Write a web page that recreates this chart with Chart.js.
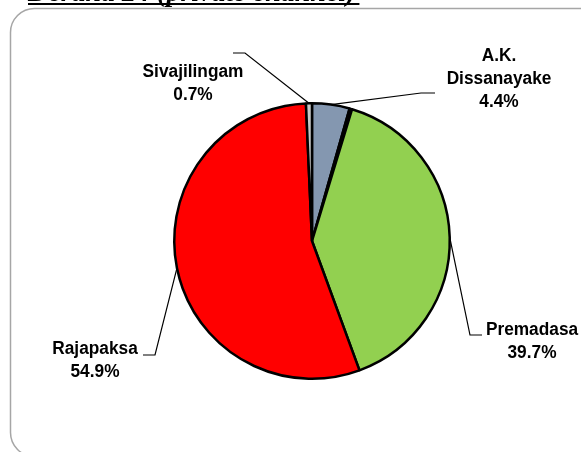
<!DOCTYPE html>
<html>
<head>
<meta charset="utf-8">
<title>Derana 24 (private channel)</title>
<script src="https://cdn.jsdelivr.net/npm/chart.js@4"></script>
<style>
  html, body { margin: 0; padding: 0; background: #fff; overflow: hidden; }
  #chart { display: block; }
</style>
</head>
<body>
<canvas id="chart" width="581" height="452"></canvas>
<script>
// Vote share shown on Derana 24 (private channel)
var candidates = ['A.K. Dissanayake', 'Others', 'Premadasa', 'Rajapaksa', 'Sivajilingam'];
var shares = [4.4, 0.3, 39.7, 54.9, 0.7];
var sliceColors = ['#8497B0', '#000000', '#92D050', '#FF0000', '#C8C8C8'];

// label text lines for each slice (null = no label)
var labelLines = [
    ['A.K.', 'Dissanayake', '4.4%'],
    null,
    ['Premadasa', '39.7%'],
    ['Rajapaksa', '54.9%'],
    ['Sivajilingam', '0.7%']
];

// where the label text sits and where the leader line bends
var labelLayout = [
    { x: 499, y: 56, elbow: [421, 93], end: [435, 93] },
    null,
    { x: 532, y: 330, elbow: [470, 335], end: [482, 335] },
    { x: 95, y: 349, elbow: [155, 355], end: [143, 355] },
    { x: 193, y: 72, elbow: [245, 53], end: [233, 53] }
];

var framePlugin = {
    id: 'frame',
    beforeDraw: function(chart) {
        var ctx = chart.ctx;
        ctx.save();
        // rounded box around the chart
        ctx.strokeStyle = '#A6A6A6';
        ctx.lineWidth = 1.5;
        var x = 10.5, y = 8.5, w = 600, h = 448, r = 24;
        ctx.beginPath();
        ctx.moveTo(x + r, y);
        ctx.lineTo(x + w, y);
        ctx.lineTo(x + w, y + h);
        ctx.lineTo(x + r, y + h);
        ctx.arcTo(x, y + h, x, y + h - r, r);
        ctx.lineTo(x, y + r);
        ctx.arcTo(x, y, x + r, y, r);
        ctx.stroke();

        // clipped title at the very top
        ctx.fillStyle = '#000';
        ctx.font = 'italic bold 28px "Liberation Serif", "Times New Roman", serif';
        ctx.textBaseline = 'alphabetic';
        ctx.textAlign = 'left';
        var title = 'Derana 24 (private channel)';
        ctx.fillText(title, 28, 1);
        var tw = ctx.measureText(title).width;
        ctx.fillRect(28, 3, tw + 4, 2);
        ctx.restore();
    }
};

var labelPlugin = {
    id: 'sliceLabels',
    afterDatasetsDraw: function(chart) {
        var ctx = chart.ctx;
        var arcs = chart.getDatasetMeta(0).data;
        ctx.save();
        arcs.forEach(function(arc, i) {
            if (!labelLines[i]) return;
            var p = arc.getProps(['x', 'y', 'startAngle', 'endAngle', 'outerRadius'], true);
            var mid = (p.startAngle + p.endAngle) / 2;
            var ax = p.x + Math.cos(mid) * p.outerRadius;
            var ay = p.y + Math.sin(mid) * p.outerRadius;
            var lay = labelLayout[i];

            ctx.strokeStyle = '#000';
            ctx.lineWidth = 1.2;
            ctx.beginPath();
            ctx.moveTo(ax, ay);
            ctx.lineTo(lay.elbow[0], lay.elbow[1]);
            ctx.lineTo(lay.end[0], lay.end[1]);
            ctx.stroke();

            // slightly condensed bold sans, like the original export
            ctx.fillStyle = '#000';
            ctx.font = 'bold 18px "Liberation Sans", Arial, sans-serif';
            ctx.textAlign = 'center';
            ctx.textBaseline = 'middle';
            labelLines[i].forEach(function(line, k) {
                ctx.save();
                ctx.translate(lay.x, lay.y + k * 23);
                ctx.scale(0.96, 1);
                ctx.fillText(line, 0, 0);
                ctx.restore();
            });
        });
        ctx.restore();
    }
};

var ctx = document.getElementById('chart').getContext('2d');
var pieChart = new Chart(ctx, {
    type: 'pie',
    data: {
        labels: candidates,
        datasets: [{
            data: shares,
            backgroundColor: sliceColors,
            borderColor: '#000000',
            borderWidth: 2.5,
            hoverOffset: 0,
            offset: 0
        }]
    },
    options: {
        responsive: false,
        animation: false,
        devicePixelRatio: 1,
        layout: {
            padding: { left: 100, right: 57, top: 102, bottom: 72 }
        },
        plugins: {
            legend: { display: false },
            tooltip: { enabled: false },
            title: { display: false }
        }
    },
    plugins: [framePlugin, labelPlugin]
});
</script>
</body>
</html>
